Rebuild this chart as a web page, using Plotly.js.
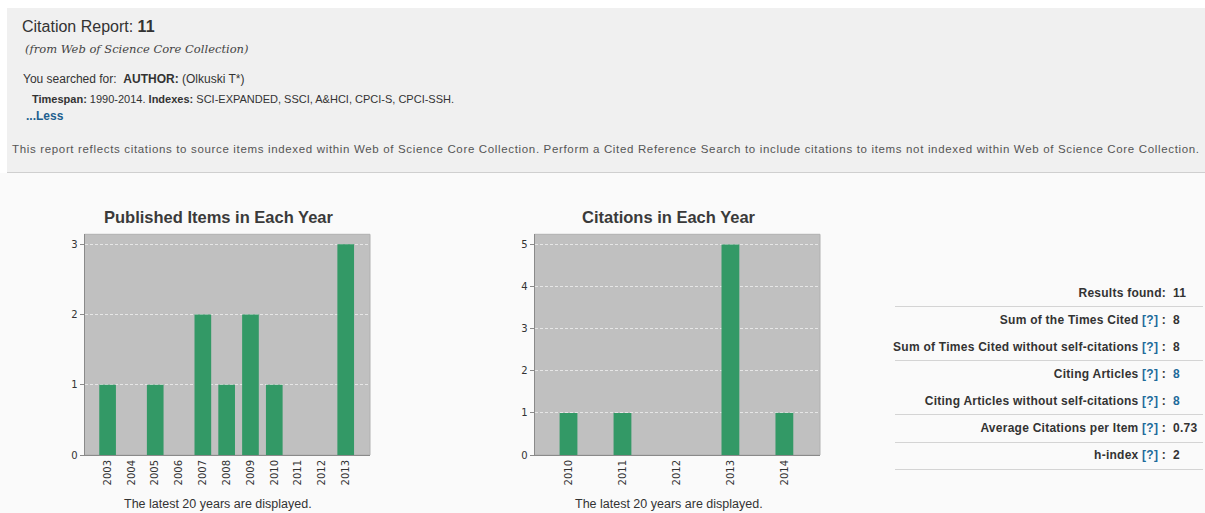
<!DOCTYPE html>
<html>
<head>
<meta charset="utf-8">
<script src="https://cdn.plot.ly/plotly-3.0.1.min.js"></script>
<style>
  html, body { margin:0; padding:0; width:1205px; height:513px; overflow:hidden; background:#ffffff; font-family:"Liberation Sans", Arial, sans-serif; color:#333; }
  #header { position:absolute; left:7px; top:8px; width:1198px; height:164px; background:#f0f0f0; border-bottom:1px solid #cfcfcf; }
  #lower { position:absolute; left:0; top:173px; width:1205px; height:340px; background:#fafafa; }
  .t { position:absolute; white-space:nowrap; }
  #chart { position:absolute; left:0; top:0; width:1205px; height:513px; }
  .row { position:absolute; left:895px; width:308px; height:26px; }
  .lab { position:absolute; right:37px; font-weight:bold; font-size:12px; color:#333; white-space:nowrap; letter-spacing:0.25px; }
  .val { position:absolute; left:278px; font-weight:bold; font-size:12px; color:#333; white-space:nowrap; letter-spacing:0.25px; }
  .q { color:#1d6a9a; }
  .line { position:absolute; left:895px; width:308px; height:0; border-top:1px solid #d4d4d4; }
</style>
</head>
<body>
<div id="header"></div>
<div id="lower"></div>
<div class="t" style="left:22px; top:18px; font-size:16px;">Citation Report: <b>11</b></div>
<div class="t" style="left:25px; top:42px; font-size:11.5px; font-style:italic; font-family:'DejaVu Serif', serif; color:#444;">(from Web of Science Core Collection)</div>
<div class="t" style="left:23px; top:72px; font-size:12px;">You searched for:&nbsp; <b>AUTHOR:</b> (Olkuski T*)</div>
<div class="t" style="left:32px; top:93px; font-size:11px;"><b>Timespan:</b> 1990-2014. <b>Indexes:</b> SCI-EXPANDED, SSCI, A&amp;HCI, CPCI-S, CPCI-SSH.</div>
<div class="t" style="left:26px; top:109px; font-size:12px; font-weight:bold; color:#1d5f8f;">...Less</div>
<div class="t" style="left:12px; top:143px; font-size:11.5px; color:#555; letter-spacing:0.66px;">This report reflects citations to source items indexed within Web of Science Core Collection. Perform a Cited Reference Search to include citations to items not indexed within Web of Science Core Collection.</div>

<div id="stats"></div>
<div id="chart"></div>

<script>
// ---- data ----
const pubYears = ["2003","2004","2005","2006","2007","2008","2009","2010","2011","2012","2013"];
const pubCounts = [1, 0, 1, 0, 2, 1, 2, 1, 0, 0, 3];
const citYears = ["2010","2011","2012","2013","2014"];
const citCounts = [1, 1, 0, 5, 1];
const statLabels = ["Results found:", "Sum of the Times Cited", "Sum of Times Cited without self-citations", "Citing Articles", "Citing Articles without self-citations", "Average Citations per Item", "h-index"];
const statValues = ["11", "8", "8", "8", "8", "0.73", "2"];
const statHelp = [false, true, true, true, true, true, true];
const statLink = [false, false, false, true, true, false, false];

// ---- stats table ----
const rowY = [294, 321, 348, 375, 402, 429, 456];
const lineY = [306, 360, 414, 442, 469];
const stats = document.getElementById('stats');
statLabels.forEach((lab, i) => {
  const row = document.createElement('div');
  row.className = 'row';
  row.style.top = (rowY[i] - 8) + 'px';
  const l = document.createElement('span');
  l.className = 'lab';
  l.innerHTML = lab + (statHelp[i] ? ' <span class="q">[?]</span> :' : '');
  const v = document.createElement('span');
  v.className = 'val';
  v.textContent = statValues[i];
  if (statLink[i]) v.style.color = '#1d6a9a';
  row.appendChild(l); row.appendChild(v);
  stats.appendChild(row);
});
lineY.forEach(y => {
  const d = document.createElement('div');
  d.className = 'line';
  d.style.top = y + 'px';
  stats.appendChild(d);
});

// ---- charts ----
const W = 1205, H = 513;
const px = x => x / W;
const py = y => 1 - y / H;
const green = '#339966';

const traces = [
  { type:'bar', x:pubYears, y:pubCounts, xaxis:'x', yaxis:'y', marker:{color:green, line:{width:0}}, width:0.7, hoverinfo:'x+y' },
  { type:'bar', x:citYears, y:citCounts, xaxis:'x2', yaxis:'y2', marker:{color:green, line:{width:0}}, width:0.33, hoverinfo:'x+y' }
];

const tickFont = { family:'DejaVu Sans, sans-serif', size:10, color:'#333' };
const xCommon = { type:'category', tickangle:-90, ticks:'', showgrid:false, zeroline:false, showline:true, linecolor:'#8a8a8a', linewidth:1, tickfont:{family:'DejaVu Sans, sans-serif', size:10, color:'#333'}, fixedrange:true };
const yCommon = { showgrid:true, gridcolor:'rgba(255,255,255,0.6)', griddash:'3px,2px', gridwidth:1, zeroline:false, showline:true, linecolor:'#8a8a8a', linewidth:1, ticks:'outside', ticklen:4, tickcolor:'#8a8a8a', tickfont:tickFont, dtick:1, fixedrange:true };

const layout = {
  width:W, height:H,
  margin:{l:0, r:0, t:0, b:0},
  paper_bgcolor:'rgba(0,0,0,0)',
  plot_bgcolor:'#c0c0c0',
  showlegend:false,
  xaxis: Object.assign({}, xCommon, { domain:[px(84.5), px(370)], range:[-0.97, 11.02], anchor:'y' }),
  yaxis: Object.assign({}, yCommon, { domain:[py(455), py(234.3)], range:[0, 3.14], anchor:'x' }),
  xaxis2: Object.assign({}, xCommon, { domain:[px(534.5), px(820)], range:[-0.63, 4.66], anchor:'y2' }),
  yaxis2: Object.assign({}, yCommon, { domain:[py(455), py(234.3)], range:[0, 5.24], anchor:'x2' }),
  shapes: [
    { type:'rect', xref:'paper', yref:'paper', x0:px(84.5), x1:px(370), y0:py(455), y1:py(234.3), line:{color:'#b0b0b0', width:1}, fillcolor:'rgba(0,0,0,0)', layer:'below' },
    { type:'rect', xref:'paper', yref:'paper', x0:px(534.5), x1:px(820), y0:py(455), y1:py(234.3), line:{color:'#b0b0b0', width:1}, fillcolor:'rgba(0,0,0,0)', layer:'below' }
  ],
  annotations: [
    { text:'<b>Published Items in Each Year</b>', xref:'paper', yref:'paper', x:px(219), y:py(217), xanchor:'center', yanchor:'middle', showarrow:false, font:{family:'Liberation Sans, Arial, sans-serif', size:16.5, color:'#3a3a3a'} },
    { text:'<b>Citations in Each Year</b>', xref:'paper', yref:'paper', x:px(669), y:py(217), xanchor:'center', yanchor:'middle', showarrow:false, font:{family:'Liberation Sans, Arial, sans-serif', size:16.5, color:'#3a3a3a'} },
    { text:'The latest 20 years are displayed.', xref:'paper', yref:'paper', x:px(218), y:py(504), xanchor:'center', yanchor:'middle', showarrow:false, font:{family:'Liberation Sans, Arial, sans-serif', size:12.5, color:'#333'} },
    { text:'The latest 20 years are displayed.', xref:'paper', yref:'paper', x:px(669), y:py(504), xanchor:'center', yanchor:'middle', showarrow:false, font:{family:'Liberation Sans, Arial, sans-serif', size:12.5, color:'#333'} }
  ]
};

Plotly.newPlot('chart', traces, layout, { displayModeBar:false, staticPlot:true });
</script>
</body>
</html>
